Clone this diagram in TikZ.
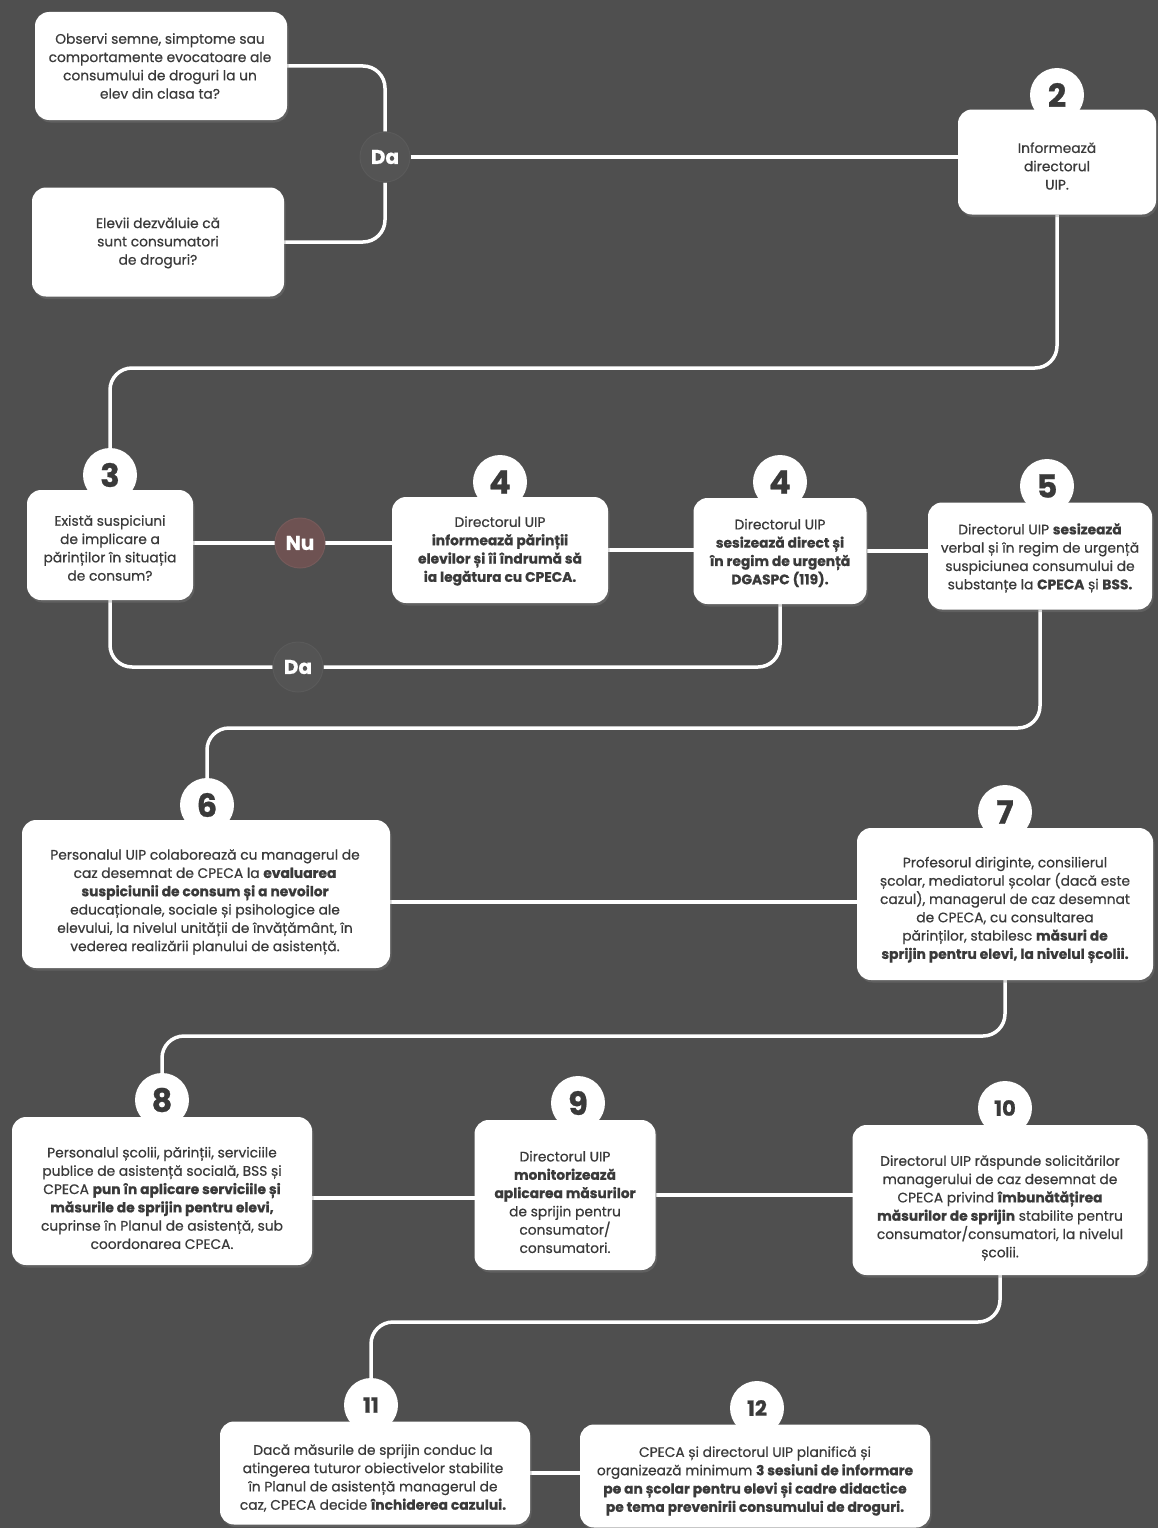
\documentclass[tikz,border=0pt]{standalone}
\usepackage{fontspec}
\setmainfont{Poppins}[UprightFeatures={FakeBold=0.6}, BoldFeatures={FakeBold=0.8}]
\usetikzlibrary{shadows}
\definecolor{bgc}{HTML}{4F4F4F}
\definecolor{txtc}{HTML}{3A3A3A}
\definecolor{numc}{HTML}{3A3A3A}
\definecolor{dac}{HTML}{545454}
\definecolor{dacb}{HTML}{5A5A5A}
\definecolor{nuc}{HTML}{6E5252}
\definecolor{nucb}{HTML}{765A5A}
\pgfdeclarelayer{bgl}
\pgfsetlayers{bgl,main}
\tikzset{
  box/.style={fill=white, rounded corners=14pt, inner sep=0pt, outer sep=0pt,
    drop shadow={opacity=0.35, shadow xshift=1.5pt, shadow yshift=-2.5pt}},
  txt/.style={align=center, text=txtc, font=\fontsize{13.8}{18.3}\selectfont, inner sep=0pt},
  num/.style={circle, fill=white, minimum size=54pt, inner sep=0pt, text=numc,
    font=\fontsize{32}{32}\selectfont\bfseries},
  numsm/.style={num, font=\fontsize{21}{21}\selectfont\bfseries},
  link/.style={draw=white, line width=3.5pt, rounded corners=22pt},
  dabub/.style={circle, minimum size=50pt, inner sep=0pt, fill=dac, draw=dacb, line width=1pt,
    text=white, font=\fontsize{20}{20}\selectfont\bfseries},
  nubub/.style={dabub, fill=nuc, draw=nucb}
}
\begin{document}
\begin{tikzpicture}[x=1pt,y=-1pt]
\useasboundingbox (0,0) rectangle (1158,1528);
\begin{pgfonlayer}{bgl}
\fill[bgc] (0,0) rectangle (1158,1528);
\end{pgfonlayer}

% boxes
\node[box, minimum width=252pt, minimum height=108pt] (bA) at (161,66) {};
\node[txt] (tA) at (160,66) {Observi semne, simptome sau\\comportamente evocatoare ale\\consumului de droguri la un\\elev din clasa ta?};
\node[box, minimum width=252pt, minimum height=109pt] (bB) at (158,242) {};
\node[txt] (tB) at (158,243) {Elevii dezvăluie că\\sunt consumatori\\de droguri?};
\node[dabub] (da1) at (385,157) {Da};

\node[box, minimum width=198pt, minimum height=105pt] (b2) at (1057,162) {};
\node[txt] (t2) at (1057,166) {Informează\\directorul\\UIP.};
\node[num] (n2) at (1057,95) {2};

\node[box, minimum width=166pt, minimum height=110pt] (b3) at (110,545) {};
\node[txt] (t3) at (110,548) {Există suspiciuni\\de implicare a\\părinților în situația\\de consum?};
\node[num] (n3) at (110,475) {3};
\node[nubub] (nu) at (300,543) {Nu};

\node[box, minimum width=216pt, minimum height=106pt] (b4a) at (500,550) {};
\node[txt] (t4a) at (500,551) {Directorul UIP\\\textbf{informează părinții}\\\textbf{elevilor și îi îndrumă să}\\\textbf{ia legătura cu CPECA.}};
\node[num] (n4a) at (500,482) {4};

\node[box, minimum width=173pt, minimum height=106pt] (b4b) at (780,551) {};
\node[txt] (t4b) at (780,553) {Directorul UIP\\\textbf{sesizează direct și}\\\textbf{în regim de urgență}\\\textbf{DGASPC (119).}};
\node[num] (n4b) at (780,482) {4};

\node[box, minimum width=224pt, minimum height=107pt] (b5) at (1040,556) {};
\node[txt] (t5) at (1040,558) {Directorul UIP \textbf{sesizează}\\verbal și în regim de urgență\\suspiciunea consumului de\\substanțe la \textbf{CPECA} și \textbf{BSS.}};
\node[num] (n5) at (1047,486) {5};

\node[dabub] (da2) at (298,667) {Da};

\node[box, minimum width=368pt, minimum height=148pt] (b6) at (206,894) {};
\node[txt] (t6) at (205,902) {Personalul UIP colaborează cu managerul de\\caz desemnat de CPECA la \textbf{evaluarea}\\\textbf{suspiciunii de consum și a nevoilor}\\educaționale, sociale și psihologice ale\\elevului, la nivelul unității de învățământ, în\\vederea realizării planului de asistență.};
\node[num] (n6) at (207,805) {6};

\node[box, minimum width=296pt, minimum height=152pt] (b7) at (1005,904) {};
\node[txt] (t7) at (1005,910) {Profesorul diriginte, consilierul\\școlar, mediatorul școlar (dacă este\\cazul), managerul de caz desemnat\\de CPECA, cu consultarea\\părinților, stabilesc \textbf{măsuri de}\\\textbf{sprijin pentru elevi, la nivelul școlii.}};
\node[num] (n7) at (1005,812) {7};

\node[box, minimum width=300pt, minimum height=148pt] (b8) at (162,1191) {};
\node[txt] (t8) at (162,1198) {Personalul școlii, părinții, serviciile\\publice de asistență socială, BSS și\\CPECA \textbf{pun în aplicare serviciile și}\\\textbf{măsurile de sprijin pentru elevi,}\\cuprinse în Planul de asistență, sub\\coordonarea CPECA.};
\node[num] (n8) at (162,1100) {8};

\node[box, minimum width=181pt, minimum height=150pt] (b9) at (565,1195) {};
\node[txt] (t9) at (565,1202) {Directorul UIP\\\textbf{monitorizează}\\\textbf{aplicarea măsurilor}\\de sprijin pentru\\consumator/\\consumatori.};
\node[num] (n9) at (578,1103) {9};

\node[box, minimum width=295pt, minimum height=150pt] (b10) at (1000,1200) {};
\node[txt] (t10) at (1000,1208) {Directorul UIP răspunde solicitărilor\\managerului de caz desemnat de\\CPECA privind \textbf{îmbunătățirea}\\\textbf{măsurilor de sprijin} stabilite pentru\\consumator/consumatori, la nivelul\\școlii.};
\node[numsm] (n10) at (1005,1108) {10};

\node[box, minimum width=310pt, minimum height=103pt] (b11) at (375,1473) {};
\node[txt] (t11) at (373,1478) {Dacă măsurile de sprijin conduc la\\atingerea tuturor obiectivelor stabilite\\în Planul de asistență managerul de\\caz, CPECA decide \textbf{închiderea cazului.}};
\node[numsm] (n11) at (371,1405) {11};

\node[box, minimum width=350pt, minimum height=103pt] (b12) at (755,1476) {};
\node[txt] (t12) at (755,1481) {CPECA și directorul UIP planifică și\\organizează minimum \textbf{3 sesiuni de informare}\\\textbf{pe an școlar pentru elevi și cadre didactice}\\\textbf{pe tema prevenirii consumului de droguri.}};
\node[numsm] (n12) at (757,1408) {12};

\coordinate (lv1) at (600,368);
\coordinate (lv3) at (600,728);
\coordinate (lv4) at (600,1036);
\coordinate (lv5) at (600,1322);

% connectors
\begin{pgfonlayer}{bgl}
\draw[link] (bA.east) -| (da1.north);
\draw[link] (bB.east) -| (da1.south);
\draw[link] (da1.east) -- (da1.east -| b2.west);
\draw[link] (b2.south) |- (lv1) -| (n3.north);
\draw[link] (nu -| b3.east) -- (nu -| b4a.west);
\draw[link] (b4a.east) -- (b4a.east -| b4b.west);
\draw[link] (b4b.east) -- (b4b.east -| b5.west);
\draw[link] (b3.south) |- (da2) -| (b4b.south);
\draw[link] (b5.south) |- (lv3) -| (n6.north);
\draw[link] (t6 -| b6.east) -- (t6 -| b7.west);
\draw[link] (b7.south) |- (lv4) -| (n8.north);
\draw[link] (t8 -| b8.east) -- (t8 -| b9.west);
\draw[link] (b9.east) -- (b9.east -| b10.west);
\draw[link] (b10.south) |- (lv5) -| (n11.north);
\draw[link] (b11.east) -- (b11.east -| b12.west);
\end{pgfonlayer}
\end{tikzpicture}
\end{document}
